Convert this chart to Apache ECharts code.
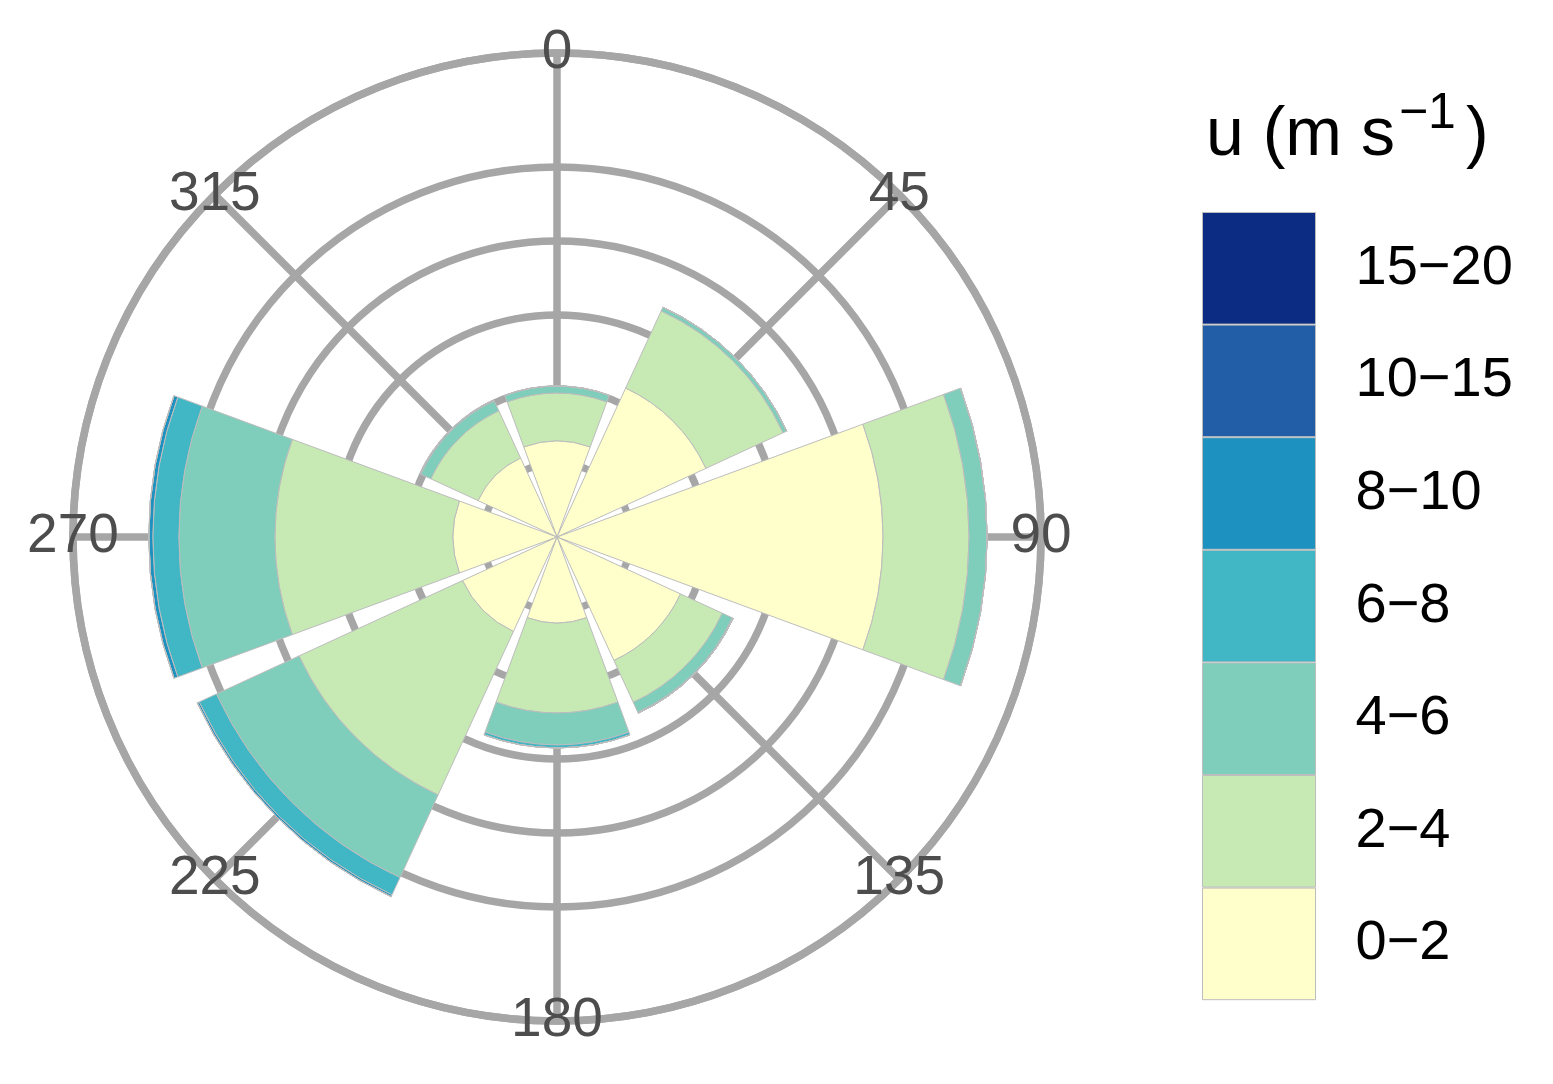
<!DOCTYPE html>
<html>
<head>
<meta charset="utf-8">
<title>Wind rose</title>
<script src="https://cdn.jsdelivr.net/npm/echarts@6/dist/echarts.min.js"></script>
<style>
html, body { margin: 0; padding: 0; background: #fff; }
#main { width: 1553px; height: 1084px; }
</style>
</head>
<body>
<div id="main"></div>
<script>
// wind directions (degrees) and speed classes
var directions = ['0', '45', '90', '135', '180', '225', '270', '315'];
var speedBins = ['0\u22122', '2\u22124', '4\u22126', '6\u22128', '8\u221210', '10\u221215', '15\u221220'];
var binColors = ['#FFFFCC', '#C7E9B4', '#7FCDBB', '#41B6C4', '#1D91C0', '#225EA8', '#0C2C84'];

// frequency per direction for each speed class
var freq0to2   = [6.49, 11.08, 22.03, 9.19, 5.81, 7.03, 7.03, 5.88];
var freq2to4   = [3.24, 5.74, 5.81, 3.11, 6.08, 12.16, 12.03, 3.51];
var freq4to6   = [0.47, 0.27, 1.22, 0.74, 2.16, 6.15, 6.49, 0.74];
var freq6to8   = [0, 0, 0, 0.07, 0.2, 1.28, 1.76, 0.07];
var freq8to10  = [0, 0, 0, 0, 0, 0.14, 0.27, 0];
var freq10to15 = [0, 0, 0, 0, 0, 0, 0, 0];
var freq15to20 = [0, 0, 0, 0, 0, 0, 0, 0];
var binValues = [freq0to2, freq2to4, freq4to6, freq6to8, freq8to10, freq10to15, freq15to20];

var rMax = 32.7;
var rStep = 5;

var font = 'Liberation Sans, Arial, Helvetica, sans-serif';
var gridColor = '#A6A6A6';
var gridWidth = 7.5;

var myChart = echarts.init(document.getElementById('main'));

var series = [];
for (var i = 0; i < speedBins.length; i++) {
	series.push({
		name: speedBins[i],
		type: 'bar',
		coordinateSystem: 'polar',
		stack: 'speed',
		barCategoryGap: '10%',
		data: binValues[i],
		itemStyle: {color: binColors[i], borderColor: '#BDBDBD', borderWidth: 1},
		emphasis: {disabled: true}
	});
}

// direction labels sit on the outer ring
var labelPoints = [];
for (var k = 0; k < directions.length; k++) {
	labelPoints.push([rMax, directions[k]]);
}
series.push({
	type: 'scatter',
	coordinateSystem: 'polar',
	data: labelPoints,
	symbolSize: 0,
	itemStyle: {color: 'transparent'},
	silent: true,
	z: 10,
	label: {
		show: true,
		position: 'inside',
		formatter: function (p) { return p.value[1]; },
		fontSize: 55,
		fontFamily: font,
		color: '#4D4D4D',
		opacity: 1,
		textBorderWidth: 0
	}
});

// hide the ring at 30, ggplot draws no break there
var ringColors = [];
for (var v = 0; v <= rMax; v += rStep) {
	ringColors.push(v + rStep > rMax && v > 0 ? 'rgba(0,0,0,0)' : gridColor);
}
ringColors.push(gridColor);

var option = {
	animation: false,
	backgroundColor: '#fff',
	title: {
		text: '{a|u (m s}{b|\u22121}{a|)}',
		left: 1201,
		top: 84,
		textStyle: {
			fontWeight: 'normal',
			rich: {
				a: {fontSize: 68, fontFamily: font, fontWeight: 'normal', color: '#000'},
				b: {fontSize: 50, fontFamily: font, fontWeight: 'normal', color: '#000', padding: [0, 10, 44, 4]}
			}
		}
	},
	legend: {
		orient: 'vertical',
		left: 1202,
		top: 212,
		padding: 0,
		itemGap: 0,
		itemWidth: 113,
		itemHeight: 111.6,
		icon: 'rect',
		data: speedBins.slice().reverse(),
		itemStyle: {borderColor: '#BDBDBD', borderWidth: 1},
		selectedMode: false,
		formatter: function (name) { return '{t|' + name + '}'; },
		textStyle: {
			rich: {t: {fontSize: 56, fontFamily: font, color: '#000', padding: [0, 0, 0, 35]}}
		}
	},
	polar: {
		center: [557, 537],
		radius: 484
	},
	angleAxis: {
		type: 'category',
		data: directions,
		startAngle: 112.5,
		clockwise: true,
		boundaryGap: true,
		axisLine: {show: true, lineStyle: {color: gridColor, width: gridWidth}},
		axisTick: {show: false, alignWithLabel: true},
		axisLabel: {show: false},
		splitLine: {show: true, lineStyle: {color: gridColor, width: gridWidth}}
	},
	radiusAxis: {
		type: 'value',
		min: 0,
		max: rMax,
		interval: rStep,
		axisLine: {show: false},
		axisTick: {show: false},
		axisLabel: {show: false},
		splitLine: {show: true, lineStyle: {color: ringColors, width: gridWidth}}
	},
	series: series
};

myChart.setOption(option);
</script>
</body>
</html>
